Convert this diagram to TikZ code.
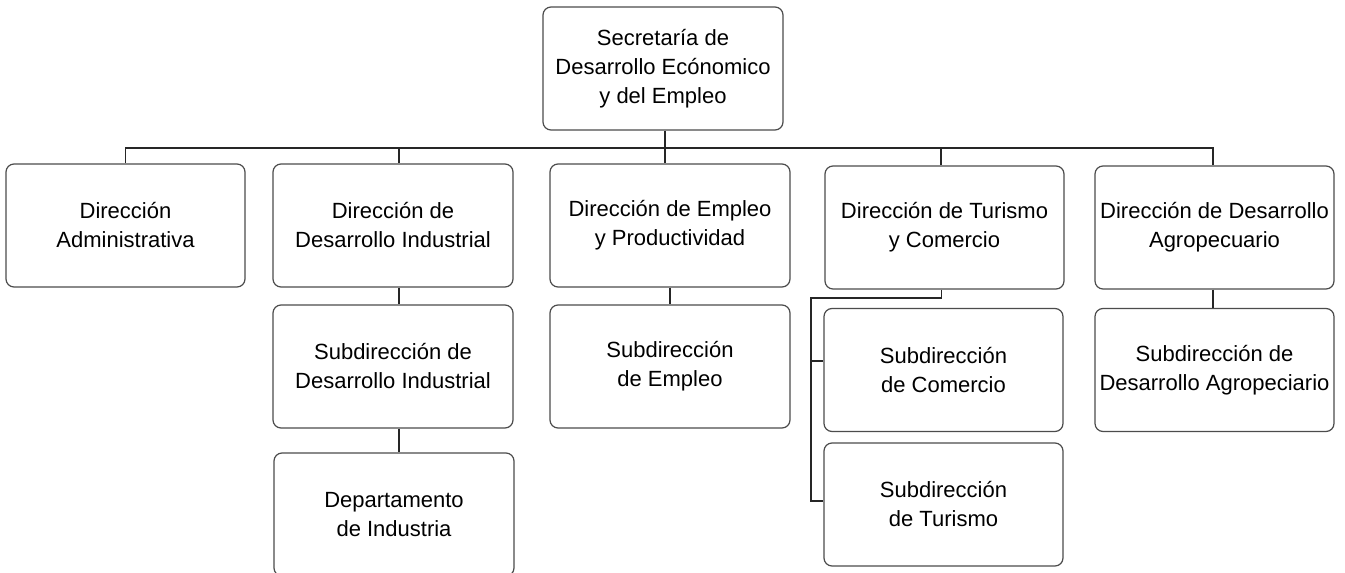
\documentclass[tikz,border=0pt]{standalone}
\usepackage{fontspec}
\setmainfont{Liberation Sans}
\begin{document}
\begin{tikzpicture}[x=1pt,y=-1pt,
  box/.style={draw=black!70, line width=1.2pt, rounded corners=8pt, fill=white,
    minimum width=239pt, minimum height=123pt, align=center, inner sep=0pt,
    font=\fontsize{22}{29}\selectfont},
  conn/.style={draw=black!85, line width=1.1pt}]
\useasboundingbox (0,0) rectangle (1345,573);
\clip (0,0) rectangle (1345,573);
\fill[white] (0,0) rectangle (1345,573);

\node[box, minimum width=240pt] (top) at (663,68.5) {Secretaría de\\Desarrollo Ecónomico\\y del Empleo};

\node[box] (adm) at (125.5,225.5) {Dirección\\Administrativa};
\node[box, minimum width=240pt] (ind) at (393,225.5) {Dirección de\\Desarrollo Industrial};
\node[box, minimum width=240pt] (emp) at (670,225.5) {Dirección de Empleo\\y Productividad};
\node[box] (tur) at (944.5,227.5) {Dirección de Turismo\\y Comercio};
\node[box] (agr) at (1214.5,227.5) {Dirección de Desarrollo\\Agropecuario};

\node[box, minimum width=240pt] (sind) at (393,366.5) {Subdirección de\\Desarrollo Industrial};
\node[box, minimum width=240pt] (semp) at (670,366.5) {Subdirección\\de Empleo};
\node[box] (scom) at (943.5,370) {Subdirección\\de Comercio};
\node[box] (stur) at (943.5,504.5) {Subdirección\\de Turismo};
\node[box] (sagr) at (1214.5,370) {Subdirección de\\Desarrollo Agropeciario};

\node[box, minimum width=240pt] (dep) at (394,514.5) {Departamento\\de Industria};

\coordinate (bus) at (0,148);
\coordinate (tj) at (811,298);
\coordinate (sturw) at ([yshift=3.5pt]stur.west);
\coordinate (scomw) at ([yshift=9pt]scom.west);

% top level connectors
\draw[conn] ([xshift=2pt]top.south) -- ([xshift=2pt]top.south |- emp.north);
\draw[conn] (adm.north) -- (adm.north |- bus) -- ([xshift=-1.5pt]agr.north |- bus) -- ([xshift=-1.5pt]agr.north);
\draw[conn] ([xshift=6pt]ind.north |- bus) -- ([xshift=6pt]ind.north);
\draw[conn] ([xshift=-3.5pt]tur.north |- bus) -- ([xshift=-3.5pt]tur.north);

% second level connectors
\draw[conn] ([xshift=6pt]ind.south) -- ([xshift=6pt]sind.north);
\draw[conn] ([xshift=6pt]sind.south) -- ([xshift=5pt]dep.north);
\draw[conn] (emp.south) -- (semp.north);
\draw[conn] ([xshift=-1.5pt]agr.south) -- ([xshift=-1.5pt]sagr.north);
\draw[conn] ([xshift=-3pt]tur.south) |- (tj) -- (tj |- sturw) -- (sturw);
\draw[conn] (tj |- scomw) -- (scomw);
\end{tikzpicture}
\end{document}
